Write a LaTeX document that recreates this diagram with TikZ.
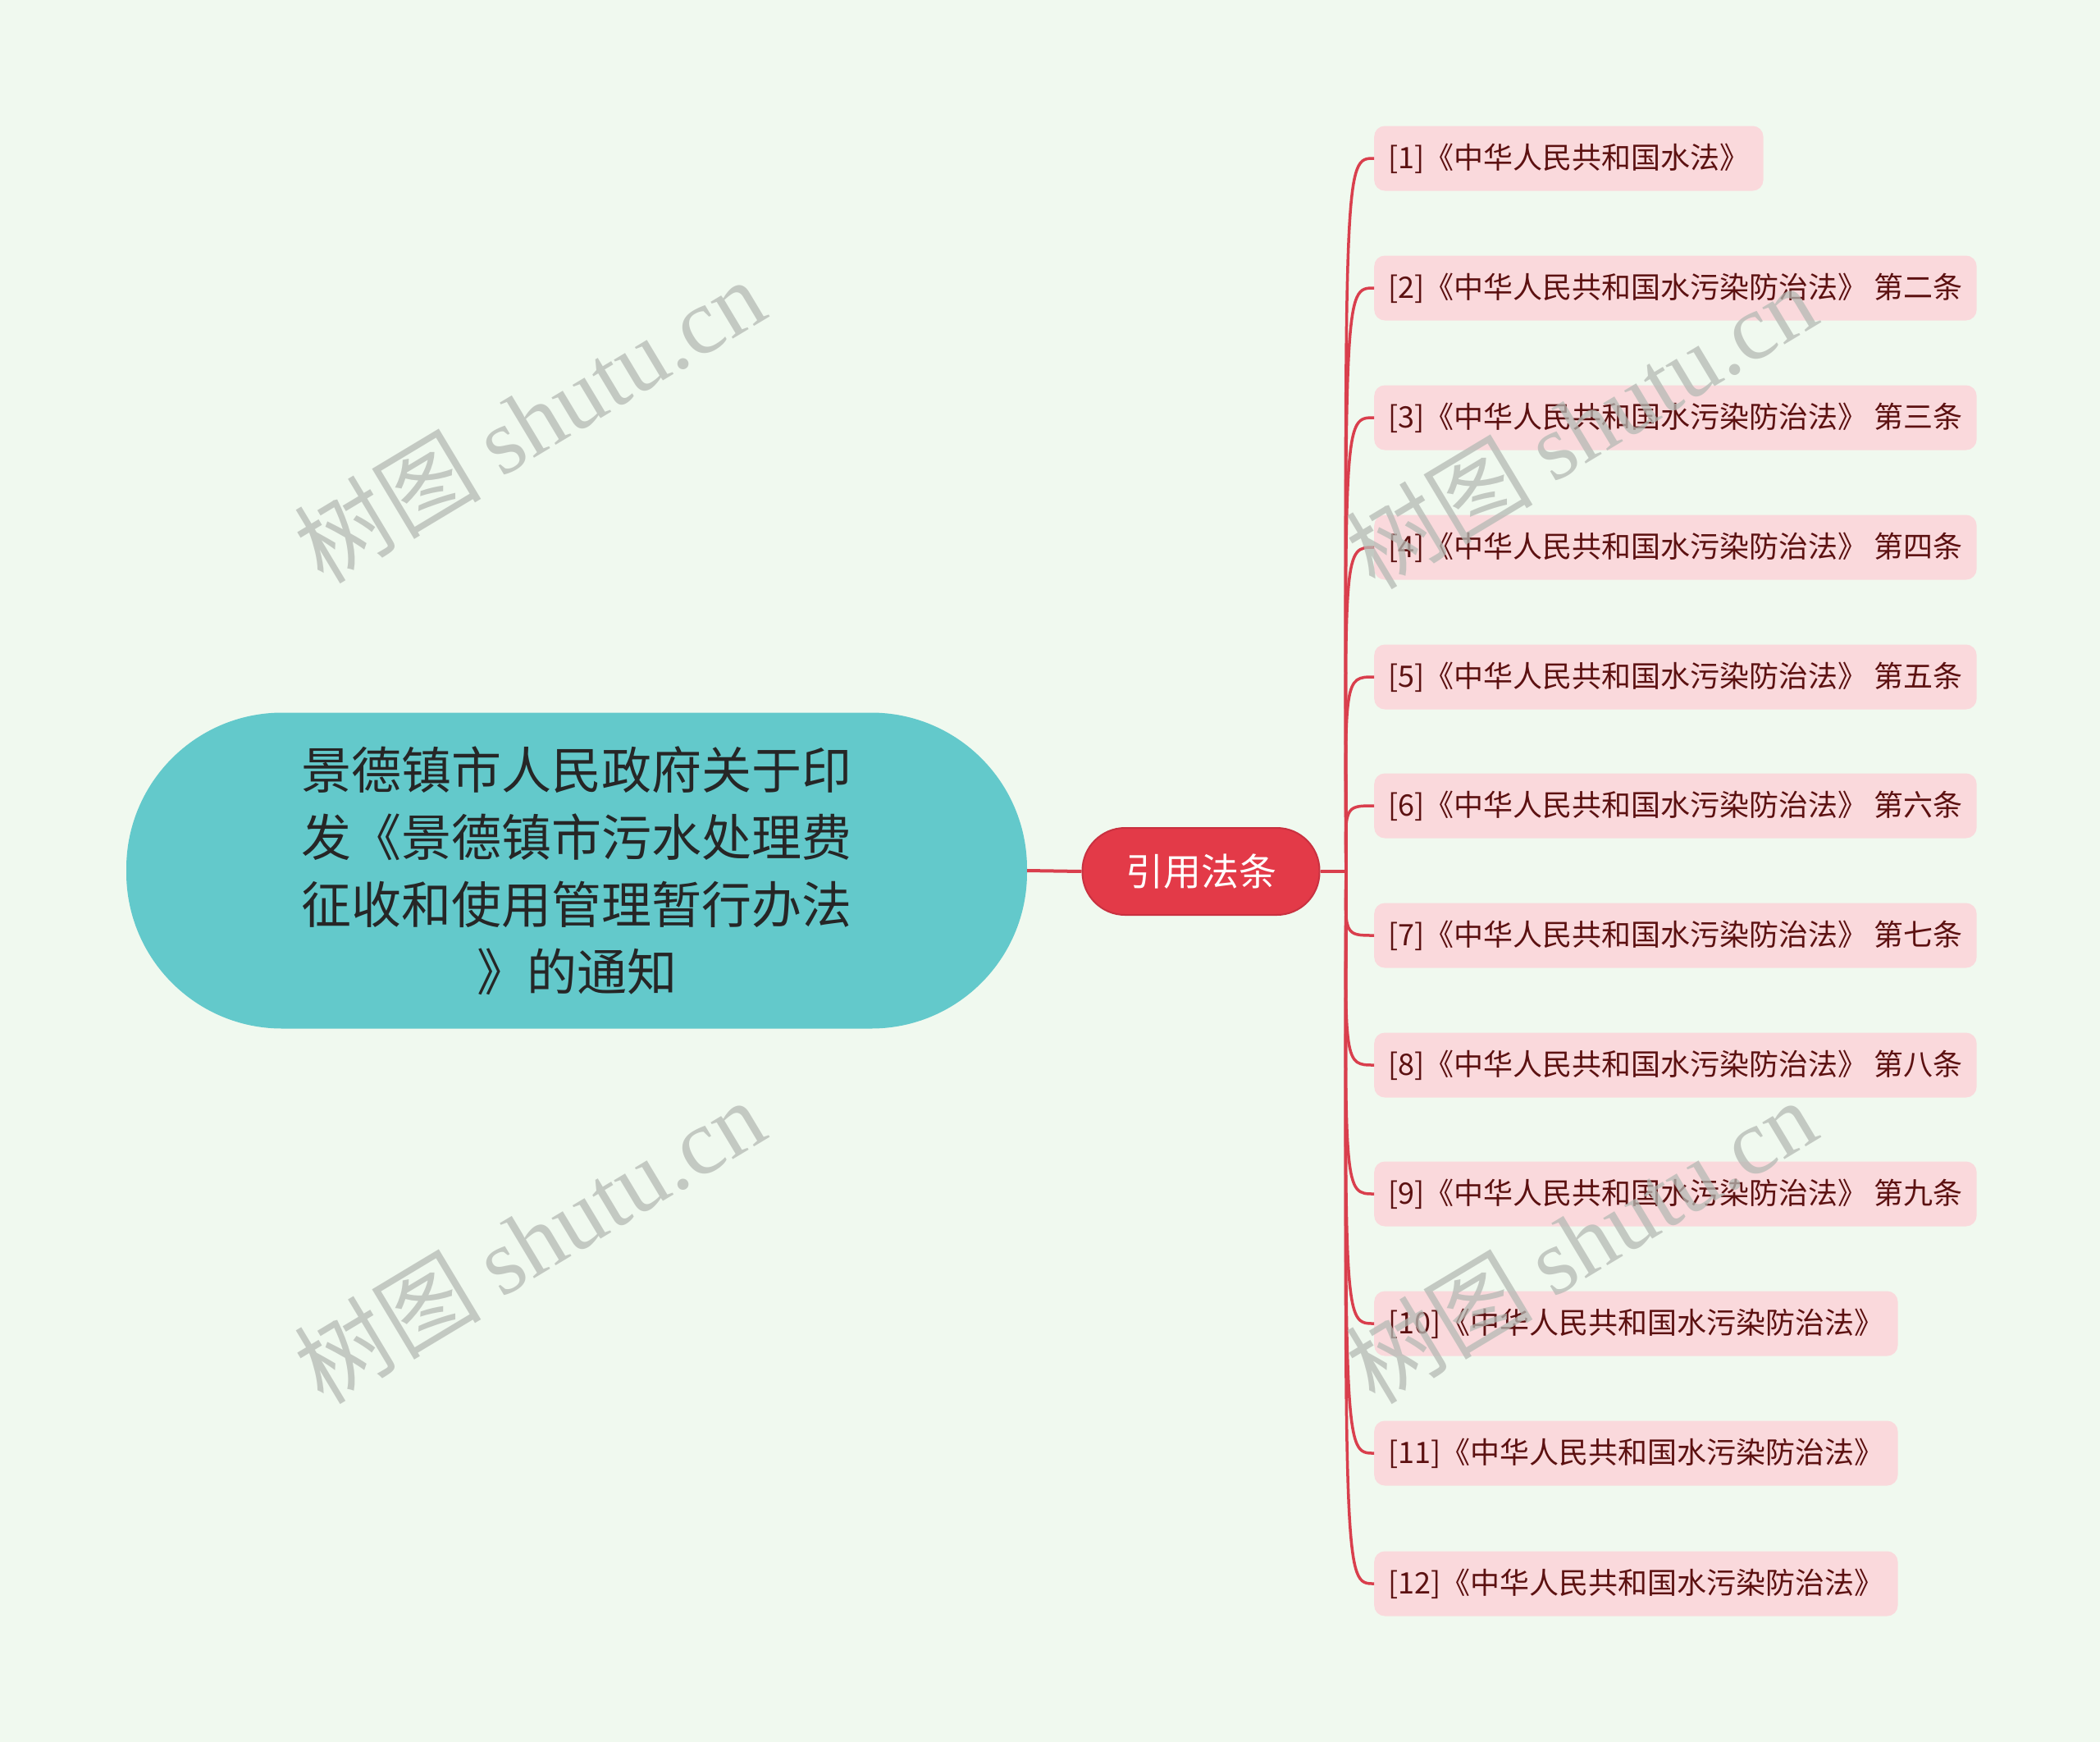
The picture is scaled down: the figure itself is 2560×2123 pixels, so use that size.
\documentclass[tikz,border=0pt]{standalone}
\usepackage{fontspec}
\setmainfont{Noto Sans CJK SC}
\newfontfamily\cjk{Noto Sans CJK SC}
\newfontfamily\wmlatin{Liberation Serif}
\definecolor{bgc}{HTML}{F0F9EF}
\definecolor{rootc}{HTML}{63C9CB}
\definecolor{roottext}{HTML}{262626}
\definecolor{midc}{HTML}{E33A48}
\definecolor{midborder}{HTML}{C93140}
\definecolor{linec}{HTML}{D93F4D}
\definecolor{leafc}{HTML}{FAD9DC}
\definecolor{leaftext}{HTML}{5C1111}
\definecolor{wmc}{HTML}{B5BAB4}
\tikzset{
  rootbox/.style={fill=rootc, rounded corners=190pt, minimum width=1098pt, minimum height=385pt,
    align=center, text=roottext, font=\fontsize{61pt}{82pt}\selectfont, inner sep=0pt},
  midbox/.style={fill=midc, draw=midborder, line width=2pt, rounded corners=52pt, minimum width=289pt,
    minimum height=106pt, text=white, font=\fontsize{46pt}{55pt}\selectfont, inner sep=0pt},
  leafbox/.style={fill=leafc, rounded corners=13pt, minimum height=79pt, inner xsep=17pt,
    inner ysep=0pt, text=leaftext, font=\fontsize{36pt}{43pt}\selectfont, anchor=west},
  conn/.style={draw=linec, line width=4pt},
  branch/.style={draw=linec, line width=3.5pt},
  wm/.style={text=wmc, opacity=0.75, rotate=31, font=\fontsize{114pt}{120pt}\selectfont}
}
\begin{document}
\begin{tikzpicture}[x=1pt, y=-1pt]
\fill[bgc] (0,0) rectangle (2560,2123);
\useasboundingbox (0,0) rectangle (2560,2123);

\node[rootbox] (root) at (703,1061) {景德镇市人民政府关于印\\发《景德镇市污水处理费\\征收和使用管理暂行办法\\》的通知};
\node[midbox] (mid) at (1464,1062) {引用法条};
\coordinate (j) at (1641,1062);

\node[leafbox] (l1) at (1675,193) {[1]《中华人民共和国水法》};
\node[leafbox] (l2) at (1675,351) {[2]《中华人民共和国水污染防治法》 第二条};
\node[leafbox] (l3) at (1675,509) {[3]《中华人民共和国水污染防治法》 第三条};
\node[leafbox] (l4) at (1675,667) {[4]《中华人民共和国水污染防治法》 第四条};
\node[leafbox] (l5) at (1675,825) {[5]《中华人民共和国水污染防治法》 第五条};
\node[leafbox] (l6) at (1675,982) {[6]《中华人民共和国水污染防治法》 第六条};
\node[leafbox] (l7) at (1675,1140) {[7]《中华人民共和国水污染防治法》 第七条};
\node[leafbox] (l8) at (1675,1298) {[8]《中华人民共和国水污染防治法》 第八条};
\node[leafbox] (l9) at (1675,1455) {[9]《中华人民共和国水污染防治法》 第九条};
\node[leafbox] (l10) at (1675,1613) {[10]《中华人民共和国水污染防治法》};
\node[leafbox] (l11) at (1675,1771) {[11]《中华人民共和国水污染防治法》};
\node[leafbox] (l12) at (1675,1930) {[12]《中华人民共和国水污染防治法》};

\draw[conn] (root.east) -- (mid.west);
\draw[conn] (mid.east) -- (j);
\foreach \i in {1,...,12}{
  \draw[branch] (j) .. controls ([xshift=-2pt]j |- l\i.west) and ([xshift=-2pt]j |- l\i.west) .. (l\i.west);
}

\node[wm] (w1) at (645,512) {树图 {\wmlatin shutu.cn}};
\node[wm] (w2) at (645,1512) {树图 {\wmlatin shutu.cn}};
\node[wm] (w3) at (1927,519) {树图 {\wmlatin shutu.cn}};
\node[wm] (w4) at (1927,1512) {树图 {\wmlatin shutu.cn}};
\end{tikzpicture}
\end{document}
